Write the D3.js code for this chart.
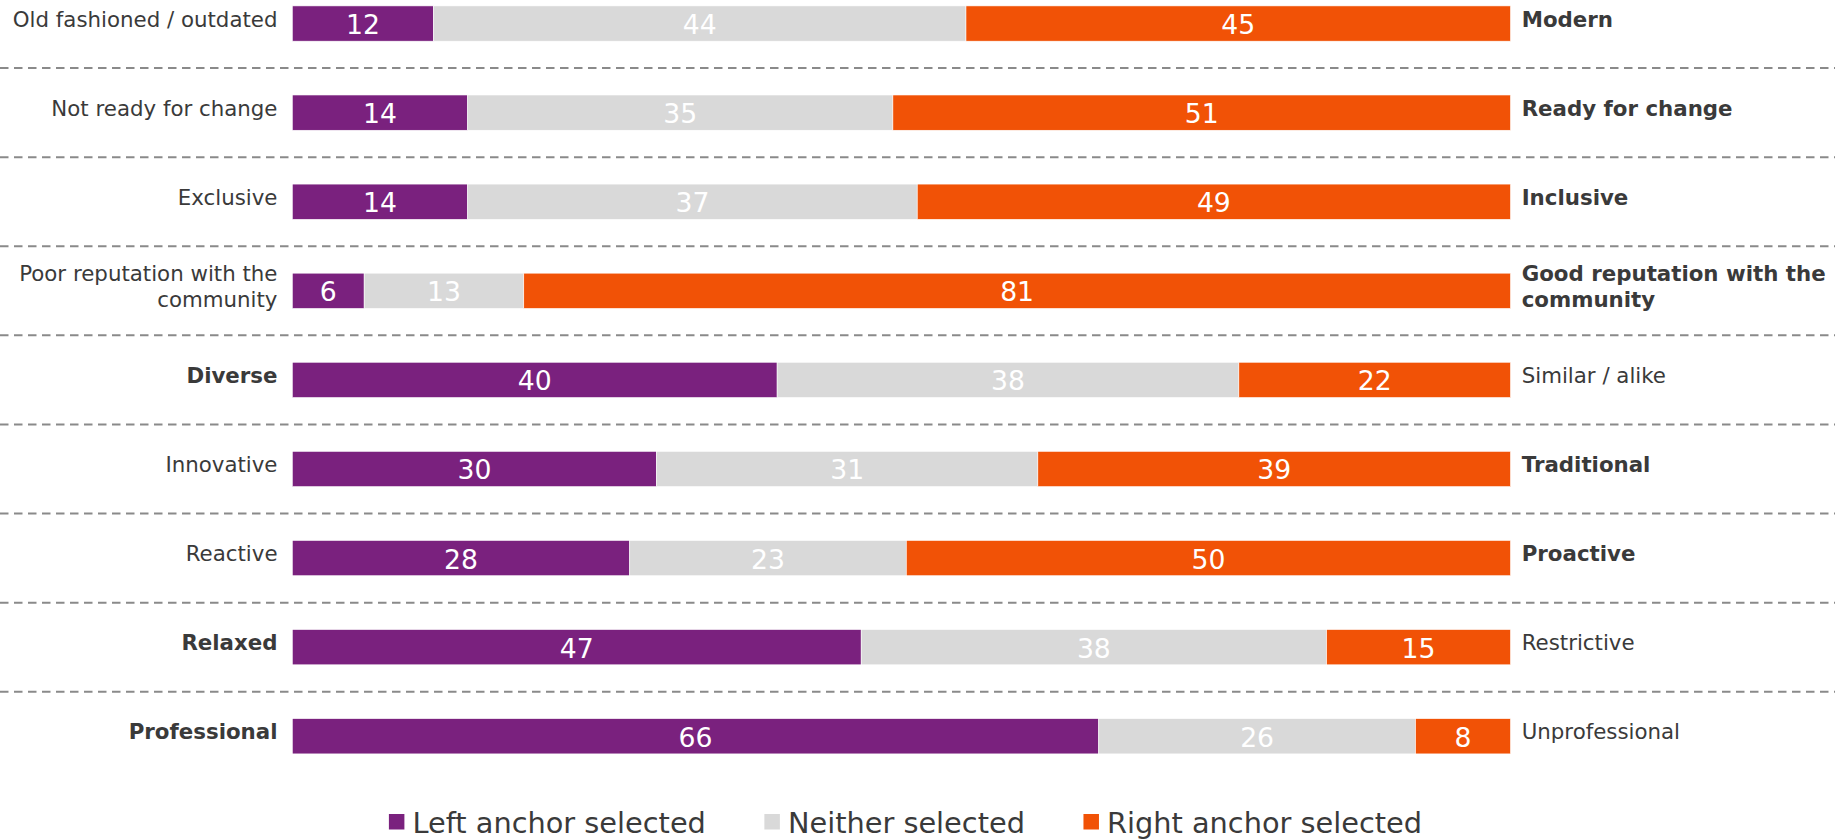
<!DOCTYPE html>
<html>
<head>
<meta charset="utf-8">
<script src="https://cdn.jsdelivr.net/npm/d3@7"></script>
<style>
  html, body { margin: 0; padding: 0; background: #ffffff; }
  svg { display: block; }
  text { font-family: "DejaVu Sans", Verdana, sans-serif; }
</style>
</head>
<body>
<svg id="chart" width="1835" height="839"></svg>
<script>
// ---- data ----
const leftAnchors = [
  "Old fashioned / outdated",
  "Not ready for change",
  "Exclusive",
  "Poor reputation with the\ncommunity",
  "Diverse",
  "Innovative",
  "Reactive",
  "Relaxed",
  "Professional"
];
const rightAnchors = [
  "Modern",
  "Ready for change",
  "Inclusive",
  "Good reputation with the\ncommunity",
  "Similar / alike",
  "Traditional",
  "Proactive",
  "Restrictive",
  "Unprofessional"
];
// which side's anchor is emphasised (bold): "L" or "R"
const boldSide = ["R", "R", "R", "R", "L", "R", "R", "L", "L"];
// percentages (estimated unrounded shares; labels show them rounded)
const leftSelected    = [11.6, 14.4, 14.4, 5.9, 39.8, 29.9, 27.7, 46.7, 66.2];
const neitherSelected = [43.7, 34.9, 36.9, 13.1, 37.9, 31.3, 22.7, 38.2, 26.0];
const rightSelected   = [44.7, 50.7, 48.7, 81.0, 22.3, 38.8, 49.6, 15.1, 7.8];
const seriesKeys   = ["left", "neither", "right"];
const seriesLabels = ["Left anchor selected", "Neither selected", "Right anchor selected"];
const seriesColors = ["#7a217e", "#d9d9d9", "#f15206"];

// ---- build table ----
const table = leftAnchors.map((l, i) => ({
  idx: i,
  left: leftSelected[i],
  neither: neitherSelected[i],
  right: rightSelected[i]
}));

const W = 1835, H = 839;
const svg = d3.select("#chart");

const x = d3.scaleLinear().domain([0, 1]).range([292.3, 1510.5]);
const y = d3.scaleBand()
  .domain(table.map(d => d.idx))
  .range([5.9, 753.9])
  .paddingInner(0.604)
  .paddingOuter(0);
const color = d3.scaleOrdinal().domain(seriesKeys).range(seriesColors);

const stacked = d3.stack().keys(seriesKeys).offset(d3.stackOffsetExpand)(table);

// ---- separators ----
const bw = y.bandwidth();
const gapHalf = (y.step() - bw) / 2;
svg.append("g").selectAll("line")
  .data(table.slice(0, -1))
  .join("line")
  .attr("x1", 0)
  .attr("x2", W)
  .attr("y1", d => y(d.idx) + bw + gapHalf)
  .attr("y2", d => y(d.idx) + bw + gapHalf)
  .attr("stroke", "#8a8a8a")
  .attr("stroke-width", 2)
  .attr("stroke-dasharray", "8.5,5.5");

// ---- bars ----
const layers = svg.append("g").selectAll("g")
  .data(stacked)
  .join("g")
  .attr("fill", d => color(d.key));

layers.selectAll("rect")
  .data(d => d.map(s => ({ s, key: d.key })))
  .join("rect")
  .attr("x", d => x(d.s[0]))
  .attr("width", d => x(d.s[1]) - x(d.s[0]))
  .attr("y", d => y(d.s.data.idx))
  .attr("height", bw)
  .attr("stroke", "#ffffff")
  .attr("stroke-width", 0.6);

// value labels
layers.selectAll("text")
  .data(d => d.map(s => ({ s, key: d.key })))
  .join("text")
  .attr("x", d => (x(d.s[0]) + x(d.s[1])) / 2)
  .attr("y", d => y(d.s.data.idx) + bw / 2 + 10.5)
  .attr("text-anchor", "middle")
  .attr("fill", "#ffffff")
  .attr("font-size", "26.67px")
  .text(d => Math.round(d.s.data[d.key]));

// ---- anchor labels ----
const lineH = 25.7;
function drawLabel(g, txt, xPos, cy, anchor, bold) {
  const lines = txt.split("\n");
  const t = g.append("text")
    .attr("text-anchor", anchor)
    .attr("fill", "#3a3a3a")
    .attr("font-size", "21.33px")
    .attr("font-weight", bold ? "bold" : "normal");
  const first = cy - (lines.length - 1) * lineH / 2;
  lines.forEach((ln, k) => {
    t.append("tspan")
      .attr("x", xPos)
      .attr("y", first + k * lineH + 7.7 - 4.5)
      .text(ln);
  });
}
const labG = svg.append("g");
table.forEach(d => {
  const cy = y(d.idx) + bw / 2;
  drawLabel(labG, leftAnchors[d.idx], 277.5, cy, "end", boldSide[d.idx] === "L");
  drawLabel(labG, rightAnchors[d.idx], 1521.7, cy, "start", boldSide[d.idx] === "R");
});

// ---- legend ----
const legend = svg.append("g");
const sq = 15.5, sqGap = 8, itemGap = 58.5, legBase = 833;
const items = legend.selectAll("g")
  .data(seriesKeys.map((k, i) => ({ k, label: seriesLabels[i] })))
  .join("g");
items.append("rect")
  .attr("width", sq).attr("height", sq)
  .attr("y", legBase - 19)
  .attr("fill", d => color(d.k));
items.append("text")
  .attr("x", sq + sqGap)
  .attr("y", legBase)
  .attr("fill", "#3a3a3a")
  .attr("font-size", "28.8px")
  .text(d => d.label);
let widths = [];
items.each(function() { widths.push(sq + sqGap + d3.select(this).select("text").node().getComputedTextLength()); });
const total = d3.sum(widths) + itemGap * (widths.length - 1);
let cx = 905.5 - total / 2;
items.attr("transform", (d, i) => {
  const t = `translate(${cx},0)`;
  cx += widths[i] + itemGap;
  return t;
});
</script>
</body>
</html>
